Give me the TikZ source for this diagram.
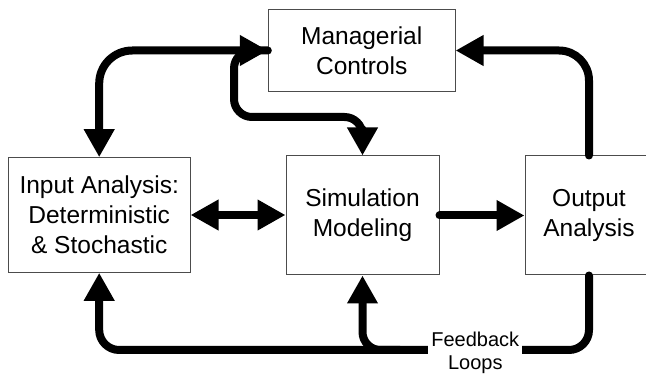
\documentclass[tikz,border=0pt]{standalone}
\usepackage{fontspec}
\setmainfont{Liberation Sans}
\usetikzlibrary{arrows.meta}
\begin{document}
\begin{tikzpicture}[x=1pt,y=-1pt,
  box/.style={draw=black!70, line width=1pt, align=center, inner sep=0pt, font=\fontsize{24.5}{30}\selectfont},
  conn/.style={line width=8pt, line cap=round, >={Triangle[length=28pt,width=29pt]}},
  lbl/.style={fill=white, align=center, inner sep=3pt, font=\fontsize{20}{23}\selectfont}]
\useasboundingbox (0,0) rectangle (646,374);
\fill[white] (0,0) rectangle (646,374);
\clip (0,0) rectangle (646,374);
% boxes
\node[box, minimum width=186.7pt, minimum height=82.4pt] (mc) at (361.7,50.5) {Managerial\\Controls};
\node[box, minimum width=181.7pt, minimum height=114.6pt] (in) at (99.2,215) {Input Analysis:\\Deterministic\\\& Stochastic};
\node[box, minimum width=153pt, minimum height=119pt] (sim) at (362.5,215.5) {Simulation\\Modeling};
\node[box, minimum width=128pt, minimum height=119pt] (out) at (589,215.5) {Output\\Analysis};
% helper coordinates
\coordinate (fb) at (0,350);
\coordinate (sc) at (234,117);
\coordinate (br) at (400,350);
% connectors
\draw[conn, ->, rounded corners=18pt] (mc.west) -- (sc |- mc.west) -- (sc) -- (sc -| sim.north) -- (sim.north);
\draw[conn, <->, rounded corners=33pt] (mc.west) -| (in.north);
\draw[conn, <->] (in.east) -- (in.east -| sim.west);
\draw[conn, ->] (sim.east) -- (sim.east -| out.west);
\draw[conn, ->, rounded corners=30pt] (out.north) |- (mc.east);
\draw[conn, ->, rounded corners=20pt] (out.south) -- (out.south |- fb) -- (in.south |- fb) -- (in.south);
\draw[conn, ->, rounded corners=18pt] (br) -| (sim.south);
\node[lbl, anchor=north] (loops) at (475.3,329) {Feedback\\Loops};
\end{tikzpicture}
\end{document}
